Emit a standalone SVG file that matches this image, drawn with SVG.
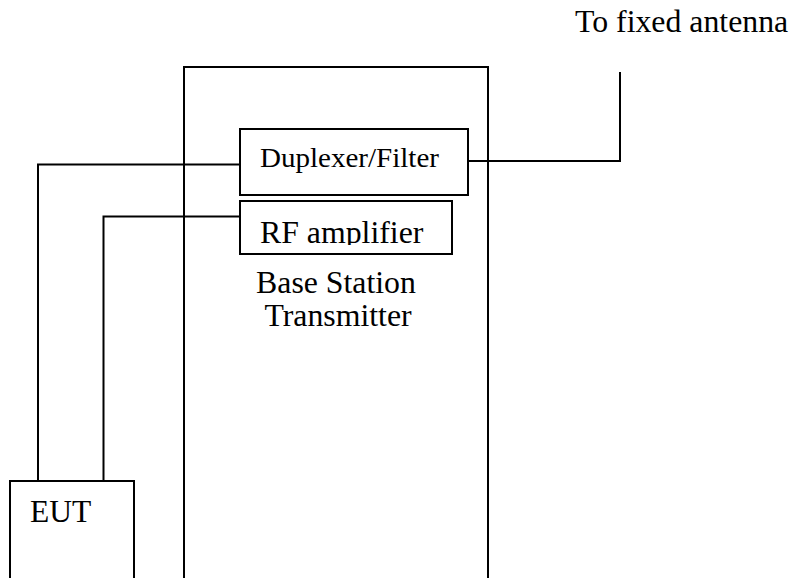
<svg xmlns="http://www.w3.org/2000/svg" width="793" height="578" viewBox="0 0 793 578">
<style>
.b{fill:none;stroke:#000;stroke-width:2}
.t{font-family:"Liberation Serif","Times New Roman",serif;fill:#000}
</style>
<defs><clipPath id="rfclip"><rect x="240" y="200" width="213" height="45"/></clipPath></defs>
<rect width="793" height="578" fill="#fff"/>
<g id="connectors">
<polyline class="b" points="240,164.5 38,164.5 38,481"/>
<polyline class="b" points="240,216.5 103.5,216.5 103.5,481"/>
<polyline class="b" points="468,161 620,161 620,72"/>
</g>
<g id="base-station">
<polyline class="b" points="184,578 184,67 488,67 488,578"/>
<text class="t" x="336" y="293" font-size="31.8" text-anchor="middle">Base Station</text>
<text class="t" x="338" y="326" font-size="31.8" text-anchor="middle">Transmitter</text>
</g>
<g id="duplexer">
<rect class="b" x="240" y="129" width="228" height="66"/>
<text class="t" x="260" y="167" font-size="28" textLength="179" lengthAdjust="spacingAndGlyphs">Duplexer/Filter</text>
</g>
<g id="rf-amplifier">
<rect class="b" x="240" y="201" width="212" height="53"/>
<text class="t" x="260" y="243" font-size="31.8" clip-path="url(#rfclip)">RF amplifier</text>
</g>
<g id="eut">
<polyline class="b" points="10,578 10,481 134,481 134,578"/>
<text class="t" x="30" y="522" font-size="31.5">EUT</text>
</g>
<g id="antenna-label">
<text class="t" x="575" y="32" font-size="31.8">To fixed antenna</text>
</g>
</svg>
